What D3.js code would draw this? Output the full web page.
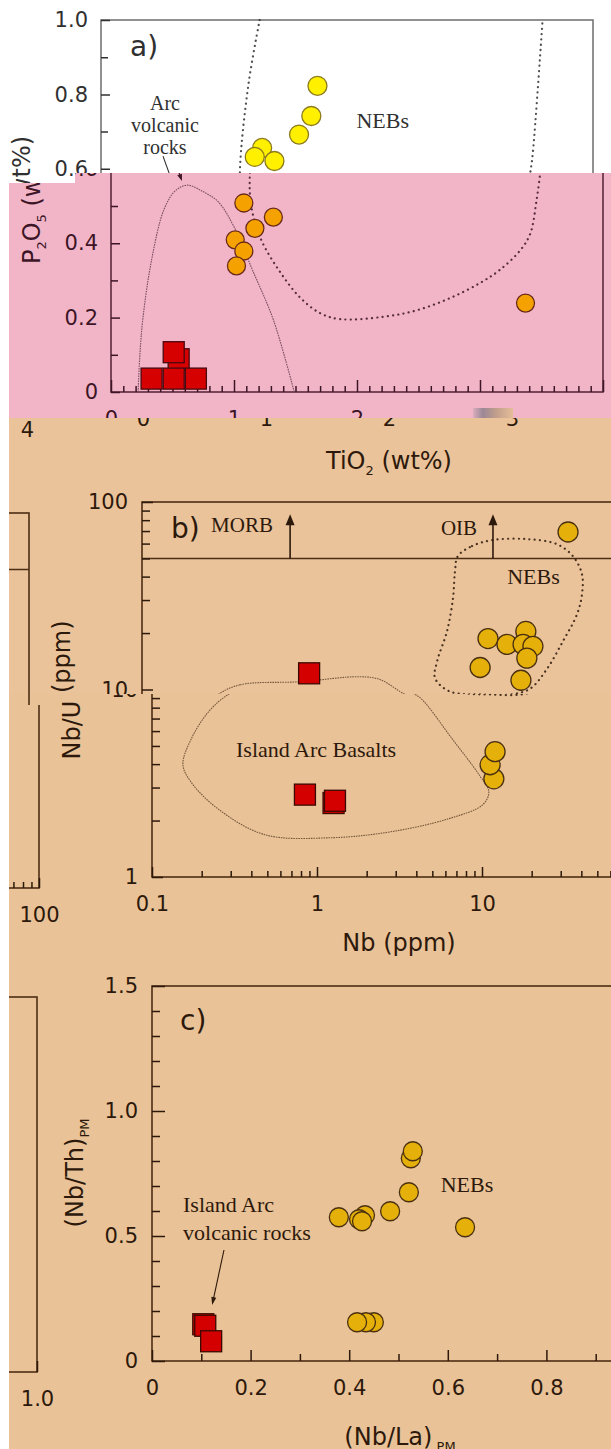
<!DOCTYPE html>
<html>
<head>
<meta charset="utf-8">
<script src="https://cdn.jsdelivr.net/npm/d3@7"></script>
<style>
  html, body { margin: 0; padding: 0; background: #fff; }
  svg { display: block; }
</style>
</head>
<body>
<svg id="chart" width="611" height="1449"></svg>
<script>
"use strict";

//////////////////////////////////////////////////////////// DATA
// a) TiO2 (wt%) vs P2O5 (wt%)
const aYellow = [[1.76, 0.823], [1.71, 0.742], [1.61, 0.692], [1.31, 0.656], [1.25, 0.632], [1.41, 0.621]];
const aOrange = [[1.08, 0.508], [1.32, 0.470], [1.17, 0.440], [1.01, 0.409], [1.08, 0.379], [1.02, 0.339], [3.37, 0.239]];
const aRed = [[0.55, 0.088], [0.51, 0.107], [0.33, 0.036], [0.51, 0.036], [0.69, 0.036]];
const aNEBsField = [[1.29, 1.0], [1.20, 0.83], [1.13, 0.60], [1.14, 0.50], [1.22, 0.41], [1.38, 0.32], [1.54, 0.253],
  [1.70, 0.212], [1.86, 0.196], [2.21, 0.202], [2.49, 0.220], [2.76, 0.253], [3.00, 0.293], [3.16, 0.328],
  [3.33, 0.382], [3.41, 0.427], [3.46, 0.516], [3.49, 0.589], [3.51, 0.64], [3.59, 1.0]];
const aArcField = [[0.22, 0.0], [0.235, 0.10], [0.26, 0.2], [0.33, 0.355], [0.43, 0.49], [0.52, 0.54], [0.62, 0.556],
  [0.74, 0.54], [0.87, 0.512], [1.0, 0.444], [1.15, 0.328], [1.32, 0.194], [1.49, 0.0]];
const aXTicks = [0, 1, 2, 3, 4];
const aXLabels = ["0", "1", "2", "3", "4"];
const aYTicks = [0, 0.2, 0.4, 0.6, 0.8, 1.0];
const aYLabels = ["0", "0.2", "0.4", "0.6", "0.8", "1.0"];

// b) Nb (ppm) vs Nb/U
const bNEBs = [[38.2, 69.2], [12.5, 18.7], [16.3, 17.4], [21.2, 20.4], [20.4, 17.4], [23.4, 17.0], [21.5, 14.7],
  [11.2, 13.1], [19.8, 11.2], [11.8, 3.34], [11.2, 3.97], [12.0, 4.66]];
const bRed = [[1.03, 12.2], [0.845, 2.75], [1.26, 2.48], [1.285, 2.55]];
const bNEBsField = [[8.2, 51.4], [10.0, 58.2], [13.4, 62.7], [21.5, 63.4], [32.7, 59.6], [40.9, 51.4], [46.4, 41.2],
  [46.4, 32.2], [43.3, 25.2], [35.6, 18.1], [28.5, 12.9], [22.5, 10.1], [17.0, 9.4], [11.7, 9.4], [7.36, 9.75],
  [5.97, 11.5], [6.14, 14.1], [7.05, 20.4], [7.67, 30.7], [7.89, 42.8]];
const bIABField = [[0.289, 9.4], [0.393, 10.6], [0.908, 11.0], [2.09, 11.7], [2.77, 11.3], [3.66, 9.75], [4.27, 8.95],
  [6.58, 5.47], [9.6, 3.51], [11.0, 2.85], [10.1, 2.43], [6.22, 2.04], [2.77, 1.74], [1.22, 1.62], [0.484, 1.68],
  [0.251, 2.31], [0.172, 3.22], [0.154, 3.97], [0.172, 5.4], [0.22, 7.6]];
const bMorbOib = 50;          // Nb/U of MORB and OIB
const bArrows = [0.79, 13.4]; // Nb of the MORB and OIB arrows
const bArrowTop = 86;
const bXTicks = [0.1, 1, 10, 100];
const bXLabels = ["0.1", "1", "10", "100"];
const bYTicks = [1, 10, 100];
const bYLabels = ["1", "10", "100"];

// c) (Nb/La)PM vs (Nb/Th)PM
const cNEBs = [[0.525, 0.811], [0.529, 0.839], [0.521, 0.675], [0.483, 0.599], [0.379, 0.575], [0.432, 0.583],
  [0.420, 0.567], [0.426, 0.559], [0.635, 0.535], [0.450, 0.155], [0.434, 0.155], [0.416, 0.155]];
const cRed = [[0.104, 0.147], [0.108, 0.141], [0.120, 0.079]];
const cXTicks = [0, 0.2, 0.4, 0.6, 0.8, 1.0];
const cXLabels = ["0", "0.2", "0.4", "0.6", "0.8", "1.0"];
const cYTicks = [0, 0.5, 1.0, 1.5];
const cYLabels = ["0", "0.5", "1.0", "1.5"];

//////////////////////////////////////////////////////////// SCALES
const xA = d3.scaleLinear().domain([0, 4]).range([101, 593]);
const yA = d3.scaleLinear().domain([0, 1]).range([392, 20]);
const xB = d3.scaleLog().domain([0.1, 100]).range([100, 595]);
const yB = d3.scaleLog().domain([1, 100]).range([877, 502]);
const xC = d3.scaleLinear().domain([0, 1]).range([100, 593]);
const yC = d3.scaleLinear().domain([0, 1.5]).range([1361, 986]);

const sans = "DejaVu Sans, sans-serif";
const serif = "Liberation Serif, Times New Roman, serif";
const logMinor = (mults) => mults.flatMap((m) => [2, 3, 4, 5, 6, 7, 8, 9].map((k) => k * m));

const svg = d3.select("#chart");
const defs = svg.append("defs");

//////////////////////////////////////////////////////////// HELPERS
function frame(g, x0, x1, y0, y1) {
  g.append("rect")
    .attr("x", x0).attr("y", y1)
    .attr("width", x1 - x0).attr("height", y0 - y1)
    .attr("fill", "none")
    .style("stroke", "var(--line)")
    .attr("stroke-width", 1.6);
}

function axis(g, gen, values, size, pad, labels, tr) {
  const ax = g.append("g")
    .attr("transform", tr)
    .call(gen.tickValues(values).tickSize(size).tickPadding(pad)
      .tickFormat(labels ? (d, i) => labels[i] : ""));
  ax.select(".domain").remove();
  if (!labels) ax.selectAll("text").remove();
  ax.attr("font-family", sans).attr("font-size", 21).style("color", "var(--ink)");
  ax.selectAll("line").attr("stroke-width", 1.5);
}

function circles(g, data, sx, sy, r, fill, stroke) {
  g.append("g").selectAll("circle").data(data).join("circle")
    .attr("cx", (d) => sx(d[0])).attr("cy", (d) => sy(d[1])).attr("r", r)
    .attr("fill", fill).attr("stroke", stroke).attr("stroke-width", 1.3);
}

function squares(g, data, sx, sy, s, fill, stroke) {
  g.append("g").selectAll("rect").data(data).join("rect")
    .attr("x", (d) => sx(d[0]) - s / 2).attr("y", (d) => sy(d[1]) - s / 2)
    .attr("width", s).attr("height", s)
    .attr("fill", fill).attr("stroke", stroke).attr("stroke-width", 1.3);
}

function field(g, data, sx, sy, closed, kind) {
  const line = d3.line()
    .x((d) => sx(d[0])).y((d) => sy(d[1]))
    .curve(closed ? d3.curveCatmullRomClosed : d3.curveCatmullRom);
  const p = g.append("path").datum(data).attr("d", line).attr("fill", "none");
  if (kind === "dots") {
    p.style("stroke", "var(--ink)").attr("stroke-width", 2.2)
      .attr("stroke-linecap", "round").attr("stroke-dasharray", "0.1 5.2").attr("opacity", 0.85);
  } else {
    p.style("stroke", "var(--dot)").attr("stroke-width", 1.1).attr("stroke-dasharray", "1.6 0.9");
  }
}

function note(g, x, y, txt, size, font, anchor) {
  g.append("text")
    .attr("x", x).attr("y", y)
    .attr("text-anchor", anchor || "middle")
    .attr("dominant-baseline", "central")
    .attr("font-family", font).attr("font-size", size)
    .style("fill", "var(--ink)")
    .text(txt);
}

// parts: [text, isSubscript]
function title(g, x, y, parts, rotate) {
  const t = g.append("text")
    .attr("transform", `translate(${x},${y})` + (rotate ? " rotate(-90)" : ""))
    .attr("text-anchor", "middle")
    .attr("font-family", sans).attr("font-size", 24)
    .style("fill", "var(--ink)");
  let down = false;
  parts.forEach(([s, sub]) => {
    const ts = t.append("tspan").text(s);
    if (sub) { ts.attr("font-size", 13).attr("dy", down ? 0 : 6); down = true; }
    else { if (down) ts.attr("dy", -6); down = false; }
  });
}

function arrow(g, x1, y1, x2, y2, hl, hw, width) {
  const len = Math.hypot(x2 - x1, y2 - y1);
  const ux = (x2 - x1) / len, uy = (y2 - y1) / len;
  const bx = x2 - ux * hl, by = y2 - uy * hl;
  g.append("line")
    .attr("x1", x1).attr("y1", y1).attr("x2", bx + ux * 1).attr("y2", by + uy * 1)
    .style("stroke", "var(--ink)").attr("stroke-width", width);
  g.append("path")
    .attr("d", `M${x2},${y2}L${bx - uy * hw / 2},${by + ux * hw / 2}L${bx + uy * hw / 2},${by - ux * hw / 2}Z`)
    .style("fill", "var(--ink)");
}

//////////////////////////////////////////////////////////// PANELS
function panelA(g) {
  const p = g.append("g");
  frame(p, xA(0), xA(4), yA(0), yA(1));
  field(p, aArcField, xA, yA, false, "fine");
  field(p, aNEBsField, xA, yA, false, "dots");
  axis(p, d3.axisBottom(xA), d3.range(1, 40).filter((i) => i % 10).map((i) => i / 10), -6, 0, null, `translate(0,${yA(0)})`);
  axis(p, d3.axisBottom(xA), aXTicks, -12, 19, aXLabels, `translate(0,${yA(0)})`);
  axis(p, d3.axisLeft(yA), [0.1, 0.3, 0.5, 0.7, 0.9], -7, 0, null, `translate(${xA(0)},0)`);
  axis(p, d3.axisLeft(yA), aYTicks, -9, 13, aYLabels, `translate(${xA(0)},0)`);
  squares(p, aRed, xA, yA, 21, "#d60000", "#4a0810");
  circles(p, aOrange, xA, yA, 9, "#f5a200", "#6a2a1a");
  circles(p, aYellow, xA, yA, 9.5, "#fff000", "#8c7a1e");
  note(p, 130, yA(0.93), "a)", 28, sans, "start");
  note(p, xA(0.52), yA(0.777), "Arc", 20, serif);
  note(p, xA(0.52), yA(0.718), "volcanic", 20, serif);
  note(p, xA(0.52), yA(0.659), "rocks", 20, serif);
  arrow(p, xA(0.504), yA(0.634), xA(0.577), yA(0.567), 7, 5, 1.1);
  note(p, xA(2.29), yA(0.731), "NEBs", 22, serif);
  title(p, xA(2), 469, [["TiO"], ["2", true], [" (wt%)"]], false);
  title(p, 30, 200, [["P"], ["2", true], ["O"], ["5", true], [" (wt%)"]], true);
}

function panelB(g) {
  const p = g.append("g");
  frame(p, xB(0.1), xB(100), yB(1), yB(100));
  p.append("line")
    .attr("x1", xB(0.1)).attr("x2", xB(100)).attr("y1", yB(bMorbOib)).attr("y2", yB(bMorbOib))
    .style("stroke", "var(--line)").attr("stroke-width", 1.6);
  bArrows.forEach((v) => arrow(p, xB(v), yB(bMorbOib), xB(v), yB(bArrowTop), 11, 9, 1.6));
  field(p, bIABField, xB, yB, true, "fine");
  field(p, bNEBsField, xB, yB, true, "dots");
  axis(p, d3.axisBottom(xB), logMinor([0.1, 1, 10]), -6, 0, null, `translate(0,${yB(1)})`);
  axis(p, d3.axisBottom(xB), bXTicks, -10, 19, bXLabels, `translate(0,${yB(1)})`);
  axis(p, d3.axisLeft(yB), logMinor([1, 10]), -8, 0, null, `translate(${xB(0.1)},0)`);
  axis(p, d3.axisLeft(yB), bYTicks, -11, 14, bYLabels, `translate(${xB(0.1)},0)`);
  squares(p, bRed, xB, yB, 21, "#d40000", "#3a0a00");
  circles(p, bNEBs, xB, yB, 10, "#e6b00a", "#4a3010");
  note(p, xB(0.150), yB(71.8), "b)", 28, sans, "start");
  note(p, xB(0.404), yB(75.4), "MORB", 21, serif);
  note(p, xB(8.34), yB(72.6), "OIB", 21, serif);
  note(p, xB(23.6), yB(40.2), "NEBs", 22, serif);
  note(p, xB(0.987), yB(4.78), "Island Arc Basalts", 22, serif);
  title(p, 347, 951, [["Nb (ppm)"]], false);
  title(p, 28, 690, [["Nb/U (ppm)"]], true);
}

function panelC(g) {
  const p = g.append("g");
  frame(p, xC(0), xC(1), yC(0), yC(1.5));
  axis(p, d3.axisBottom(xC), [0.1, 0.3, 0.5, 0.7, 0.9], -7, 0, null, `translate(0,${yC(0)})`);
  axis(p, d3.axisBottom(xC), cXTicks, -11, 19, cXLabels, `translate(0,${yC(0)})`);
  axis(p, d3.axisLeft(yC), d3.range(1, 15).filter((i) => i % 5).map((i) => i / 10), -8, 0, null, `translate(${xC(0)},0)`);
  axis(p, d3.axisLeft(yC), cYTicks, -13, 14, cYLabels, `translate(${xC(0)},0)`);
  squares(p, cRed, xC, yC, 21, "#d40000", "#3a0a00");
  circles(p, cNEBs, xC, yC, 9.5, "#e6b00a", "#4a3010");
  note(p, xC(0.057), yC(1.364), "c)", 28, sans, "start");
  note(p, xC(0.063), yC(0.628), "Island Arc", 22, serif, "start");
  note(p, xC(0.063), yC(0.516), "volcanic rocks", 22, serif, "start");
  arrow(p, xC(0.146), yC(0.444), xC(0.122), yC(0.224), 8, 5, 1.1);
  note(p, xC(0.639), yC(0.708), "NEBs", 22, serif);
  title(p, 348, 1445, [["(Nb/La)"], [" PM", true]], false);
  title(p, 31, 1173, [["(Nb/Th)"], ["PM", true]], true);
}

//////////////////////////////////////////////////////////// BANDS
// the picture is made of shifted strips of one figure
const tanInk = { ink: "#2d190b", line: "#4d2d14", dot: "#76583c" };
const bands = [
  { rects: [[0, 0, 611, 173], [0, 173, 75, 10]], dx: 0, dy: 0, panels: [panelA], ink: "#303030", line: "#767676", dot: "#555" },
  { rects: [[9, 183, 66, 235], [75, 173, 536, 229], [75, 402, 521, 16]], dx: 10, dy: 0, panels: [panelA], ink: "#3d1526", line: "#5b2a3c", dot: "#7a4d60" },
  { rects: [[9, 418, 602, 276]], dx: 42, dy: 0, panels: [panelA, panelB], ...tanInk },
  { rects: [[9, 694, 602, 755]], dx: 52, dy: 0, panels: [panelB, panelC], ...tanInk },
  { rects: [[9, 418, 50, 287]], dx: 42 - 608, dy: 11, panels: [panelA, panelB], ...tanInk },
  { rects: [[9, 705, 50, 744]], dx: 52 - 608, dy: 11, panels: [panelB, panelC], ...tanInk },
];

// backgrounds
svg.append("rect").attr("width", 611).attr("height", 1449).attr("fill", "#ffffff");
svg.append("path").attr("d", "M9,183H75V173H611V418H9Z").attr("fill", "#f2b5c8");
svg.append("rect").attr("x", 9).attr("y", 418).attr("width", 602).attr("height", 276).attr("fill", "#eac39b");
svg.append("rect").attr("x", 9).attr("y", 694).attr("width", 602).attr("height", 755).attr("fill", "#e9c297");

bands.forEach((b, i) => {
  const cp = defs.append("clipPath").attr("id", `band${i}`);
  b.rects.forEach(([x, y, w, h]) =>
    cp.append("rect").attr("x", x).attr("y", y).attr("width", w).attr("height", h));
  const outer = svg.append("g").attr("clip-path", `url(#band${i})`)
    .style("--ink", b.ink).style("--line", b.line).style("--dot", b.dot);
  const inner = outer.append("g").attr("transform", `translate(${b.dx},${b.dy})`);
  b.panels.forEach((fn) => fn(inner));

  // drop texts that this strip never shows
  outer.selectAll("text").each(function () {
    const r = this.getBoundingClientRect();
    const seen = b.rects.some(([x, y, w, h]) => r.right > x && r.left < x + w && r.bottom > y && r.top < y + h);
    if (!seen) this.remove();
  });
});

// smeared pixels at the pink / tan seam
const grad = defs.append("linearGradient").attr("id", "smear");
[["0", "#d9adbd"], ["0.25", "#9c8896"], ["0.6", "#c4a08c"], ["1", "#e4bd99"]].forEach(([o, c]) =>
  grad.append("stop").attr("offset", o).attr("stop-color", c));
svg.append("rect").attr("x", 473).attr("y", 408).attr("width", 40).attr("height", 10).attr("fill", "url(#smear)");
</script>
</body>
</html>
